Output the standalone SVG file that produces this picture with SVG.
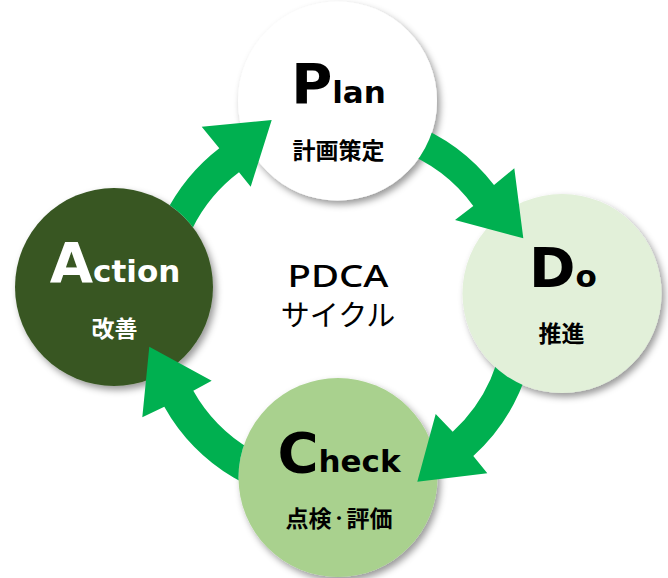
<svg xmlns="http://www.w3.org/2000/svg" width="668" height="578" viewBox="0 0 668 578">
<style>
.big{font-family:"DejaVu Sans","Liberation Sans",sans-serif;font-weight:700;text-anchor:middle}
.cap{font-size:56px}
.sm{font-size:31px}
.jp{font-family:"Noto Sans CJK JP","Noto Sans CJK SC",sans-serif;font-weight:700;font-size:23px;text-anchor:middle}
.center{font-family:"Noto Sans CJK JP","Noto Sans CJK SC",sans-serif;font-weight:400;font-size:29px;text-anchor:middle;fill:#000}
.latin{font-family:"Noto Sans","DejaVu Sans",sans-serif;font-size:31px;font-weight:500}
.dot{font-size:15px}
.arrow{fill:#00B050}
.node{filter:url(#sh)}
</style>
<defs>
<filter id="sh" x="-20%" y="-20%" width="140%" height="140%">
<feDropShadow dx="3" dy="4" stdDeviation="3.5" flood-color="#000" flood-opacity="0.4"/>
</filter>
<mask id="mPlan" maskUnits="userSpaceOnUse" x="0" y="0" width="668" height="578"><rect width="668" height="578" fill="#fff"/><circle cx="337.5" cy="101" r="99.5" fill="#000"/></mask>
<mask id="mDo" maskUnits="userSpaceOnUse" x="0" y="0" width="668" height="578"><rect width="668" height="578" fill="#fff"/><circle cx="562" cy="293.5" r="99.5" fill="#000"/></mask>
<mask id="mCheck" maskUnits="userSpaceOnUse" x="0" y="0" width="668" height="578"><rect width="668" height="578" fill="#fff"/><circle cx="338" cy="477.5" r="99.5" fill="#000"/></mask>
<mask id="mAction" maskUnits="userSpaceOnUse" x="0" y="0" width="668" height="578"><rect width="668" height="578" fill="#fff"/><circle cx="114" cy="287" r="99" fill="#000"/></mask>
</defs>
<rect width="668" height="578" fill="#fff"/>
<g id="plan">
<circle class="node" cx="337.5" cy="101" r="99.5" fill="#FFFFFF"/>
<text class="big" x="338.5" y="103" fill="#000"><tspan class="cap">P</tspan><tspan class="sm">lan</tspan></text>
<text class="jp" x="338.5" y="159" fill="#000">計画策定</text>
</g>
<g id="do">
<circle class="node" cx="562" cy="293.5" r="99.5" fill="#E2F0D9"/>
<text class="big" x="563" y="287" fill="#000"><tspan class="cap">D</tspan><tspan class="sm">o</tspan></text>
<text class="jp" x="561.5" y="342" fill="#000">推進</text>
</g>
<g id="check">
<circle class="node" cx="338" cy="477.5" r="99.5" fill="#A9D18E"/>
<text class="big" x="339" y="472" fill="#000"><tspan class="cap">C</tspan><tspan class="sm">heck</tspan></text>
<text class="jp" x="339" y="527" fill="#000">点検<tspan class="dot" dy="-3">・</tspan><tspan dy="3">評価</tspan></text>
</g>
<g id="action">
<circle class="node" cx="114" cy="287" r="99" fill="#385723"/>
<text class="big" x="115" y="282" fill="#fff"><tspan class="cap">A</tspan><tspan class="sm">ction</tspan></text>
<text class="jp" x="114.5" y="337" fill="#fff">改善</text>
</g>
<g id="center-label">
<text class="center latin" x="338" y="287" textLength="101" lengthAdjust="spacingAndGlyphs">PDCA</text>
<text class="center" x="338" y="326">サイクル</text>
</g>
<g id="connectors">
<path class="arrow" mask="url(#mPlan)" d="M409.5,122.9 A188.5,188.5 0 0 1 494,185 L514.3,168.3 L523.3,238.3 L455,220 L473.3,206 A159,159 0 0 0 399.4,150.6 Z"/>
<path class="arrow" mask="url(#mDo)" d="M535.5,316 A188.5,188.5 0 0 1 473.3,456 L487.3,473.3 L417.3,481.7 L435.7,414 L452.7,431.7 A157,157 0 0 0 504,316 Z"/>
<path class="arrow" mask="url(#mCheck)" d="M329,503.5 A188.5,188.5 0 0 1 164.3,406.7 L142.3,417.3 L149.3,346.7 L211.7,380.7 L193.3,390.7 A155.5,155.5 0 0 0 329,470.5 Z"/>
<path class="arrow" mask="url(#mAction)" d="M145.5,298 A188.5,188.5 0 0 1 219.3,148.3 L201.7,126.7 L271.7,120 L250.7,186.7 L239,172.3 A158,158 0 0 0 176,298 Z"/>
</g>
</svg>
